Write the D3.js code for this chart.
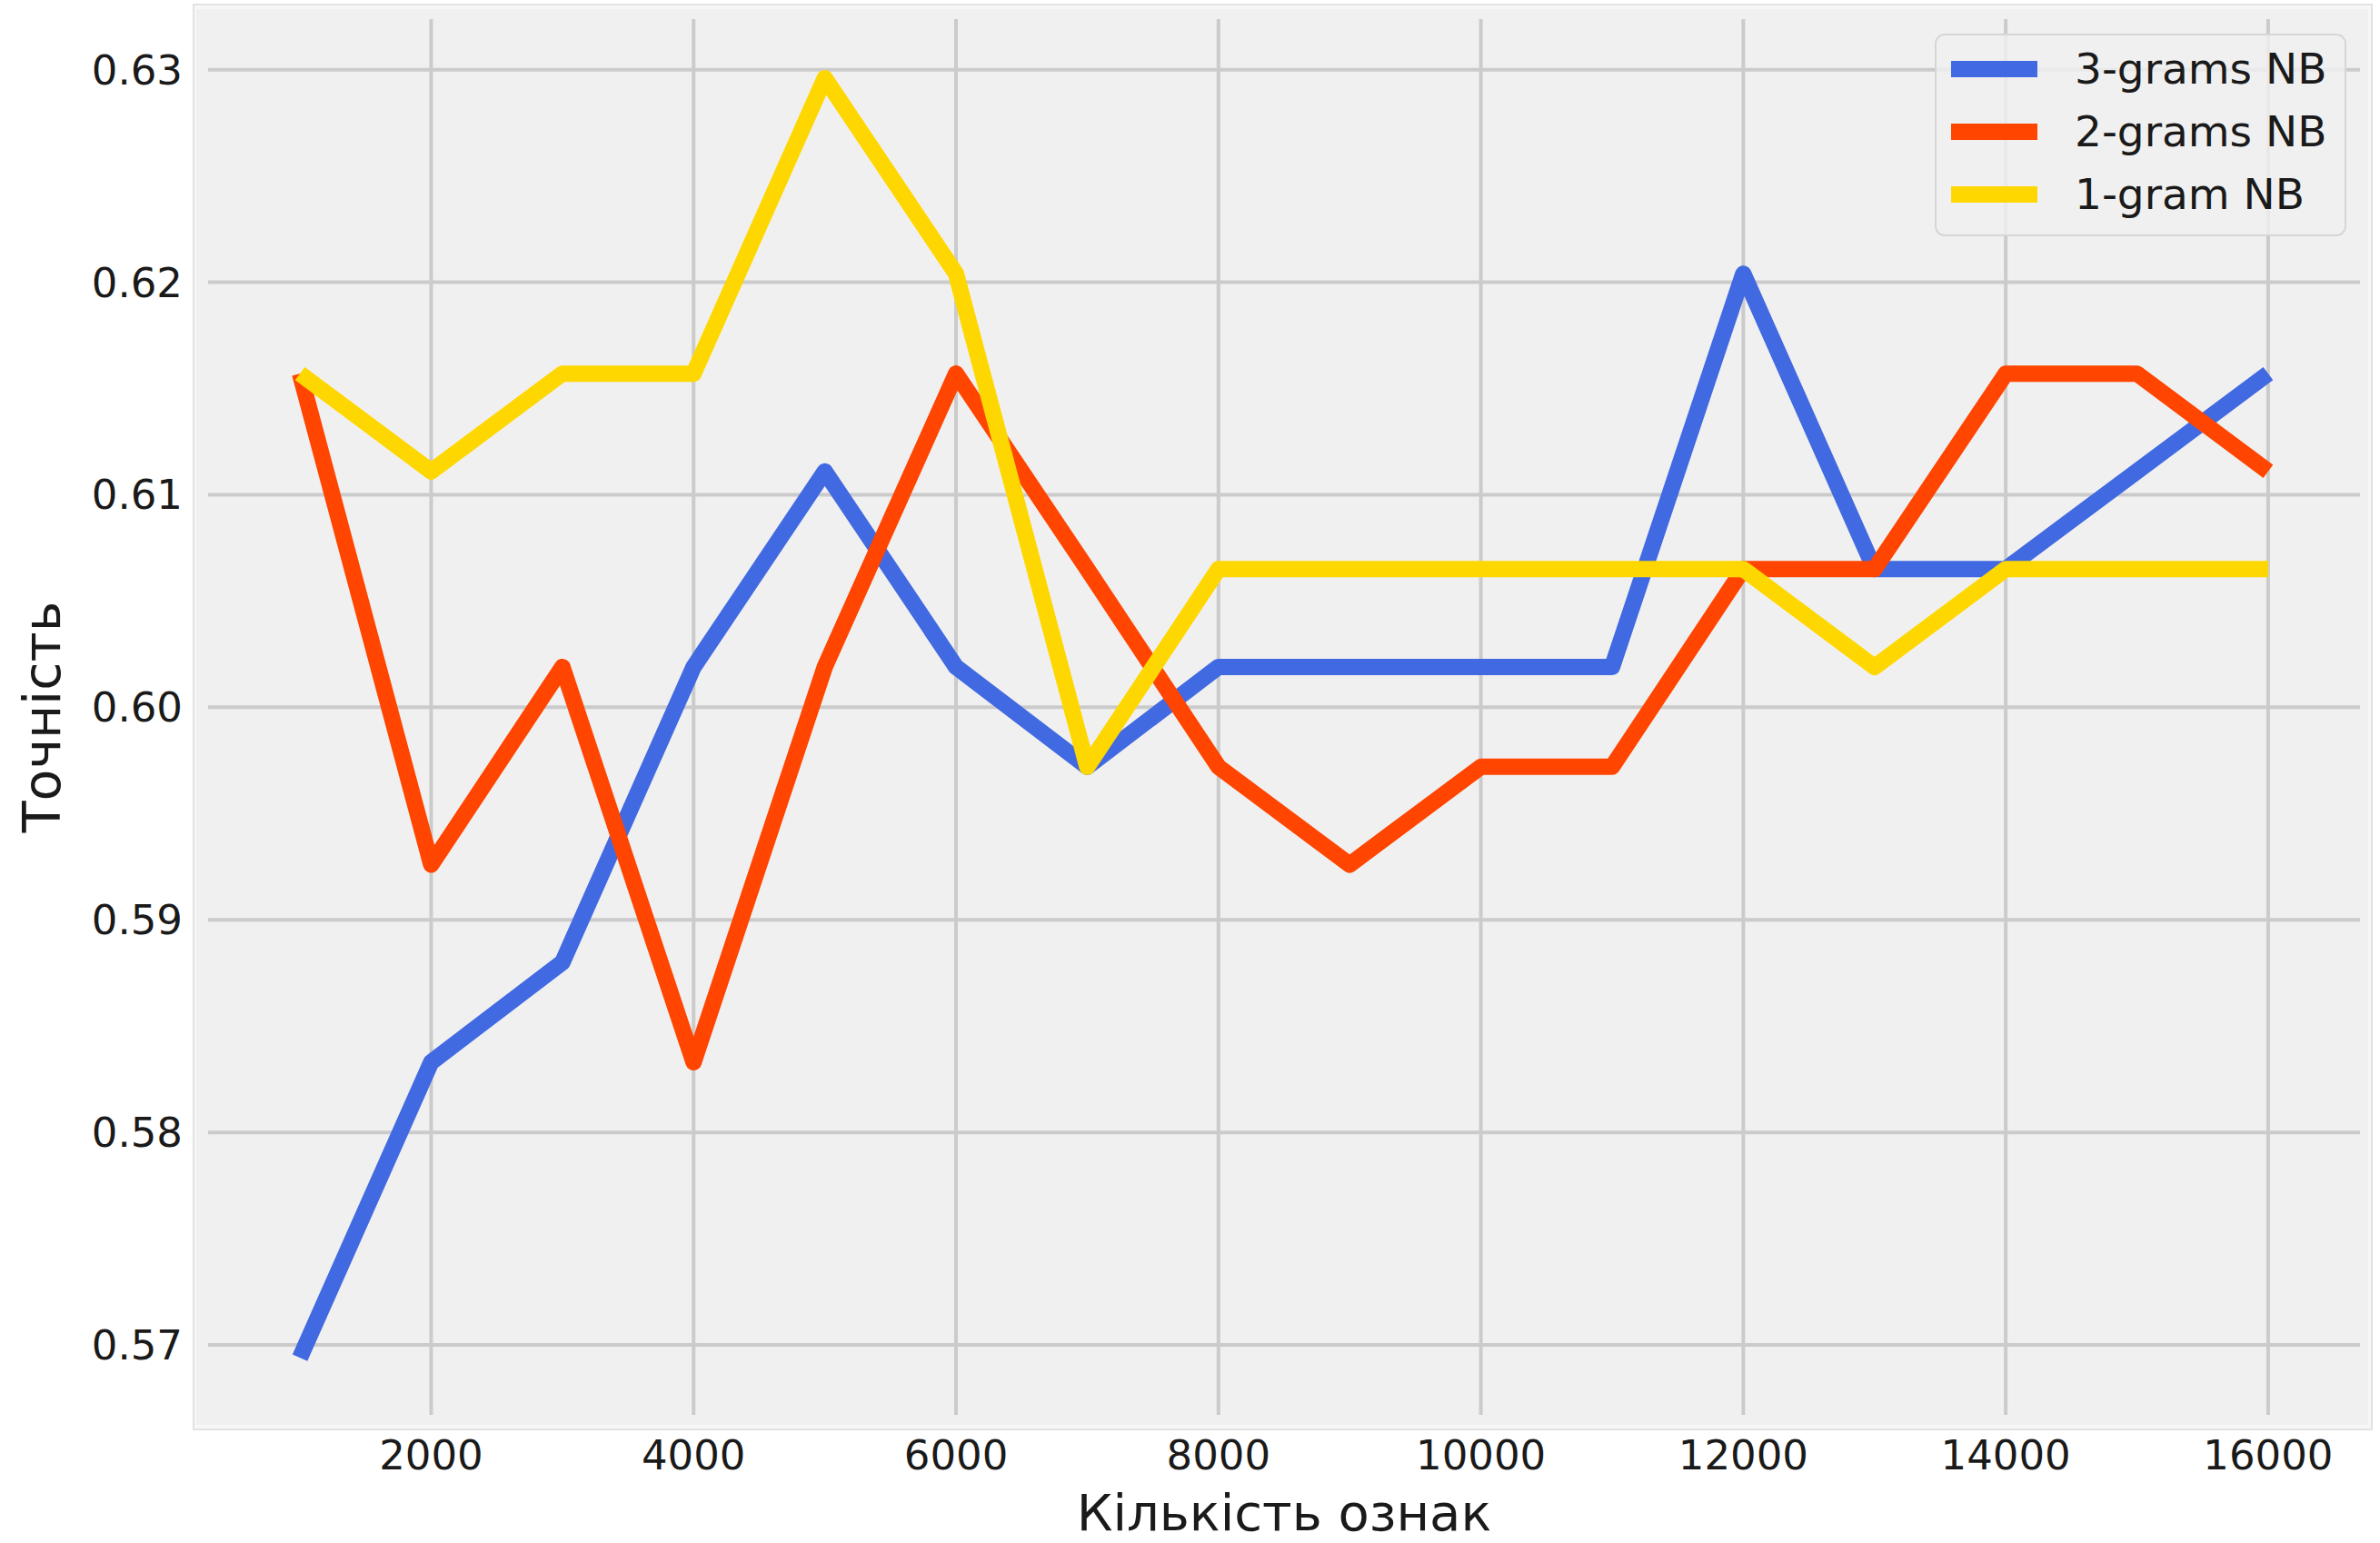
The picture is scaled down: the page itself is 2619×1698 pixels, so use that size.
<!DOCTYPE html>
<html>
<head>
<meta charset="utf-8">
<script src="https://cdn.jsdelivr.net/npm/d3@7"></script>
<style>
  body { margin: 0; background: #ffffff; }
  svg text { font-family: "DejaVu Sans", sans-serif; }
</style>
</head>
<body>
<div id="chart"></div>
<script>
// Number of features on the x axis.
const features = [1000, 2000, 3000, 4000, 5000, 6000, 7000, 8000,
  9000, 10000, 11000, 12000, 13000, 14000, 15000, 16000];

// Accuracy for each model.
const trigramNB = [0.5694, 0.5833, 0.5880, 0.6019, 0.6111, 0.6019, 0.5972, 0.6019,
  0.6019, 0.6019, 0.6019, 0.6204, 0.6065, 0.6065, 0.6111, 0.6157];
const bigramNB = [0.6157, 0.5926, 0.6019, 0.5833, 0.6019, 0.6157, 0.6065, 0.5972,
  0.5926, 0.5972, 0.5972, 0.6065, 0.6065, 0.6157, 0.6157, 0.6111];
const unigramNB = [0.6157, 0.6111, 0.6157, 0.6157, 0.6296, 0.6204, 0.5972, 0.6065,
  0.6065, 0.6065, 0.6065, 0.6065, 0.6019, 0.6065, 0.6065, 0.6065];

const seriesNames = ["3-grams NB", "2-grams NB", "1-gram NB"];
const xTicks = [2000, 4000, 6000, 8000, 10000, 12000, 14000, 16000];
const yTicks = [0.57, 0.58, 0.59, 0.60, 0.61, 0.62, 0.63];

const series = [
  { name: seriesNames[0], values: trigramNB, color: "#4169e1" },
  { name: seriesNames[1], values: bigramNB, color: "#ff4500" },
  { name: seriesNames[2], values: unigramNB, color: "#ffd700" }
];

//Set up the dimensions.
const width = 2619;
const height = 1698;
const plot = { left: 229, right: 2597, top: 21, bottom: 1557 };

const svg = d3.select("#chart")
  .append("svg")
  .attr("width", width)
  .attr("height", height);

//Scales.
const xScale = d3.scaleLinear()
  .domain([300, 16700])
  .range([plot.left, plot.right]);

const yScale = d3.scaleLinear()
  .domain([0.56671, 0.63238])
  .range([plot.bottom, plot.top]);

//Background frame.
svg.append("rect")
  .attr("x", 213).attr("y", 5)
  .attr("width", 2610 - 213).attr("height", 1573 - 5)
  .attr("fill", "#f7f7f7")
  .attr("stroke", "#e2e2e2")
  .attr("stroke-width", 2);

svg.append("rect")
  .attr("x", 216).attr("y", 10)
  .attr("width", 2606 - 216).attr("height", 1568 - 10)
  .attr("fill", "#f0f0f0");

//Grid lines.
svg.append("g")
  .selectAll("line")
  .data(xTicks)
  .join("line")
  .attr("x1", d => xScale(d)).attr("x2", d => xScale(d))
  .attr("y1", plot.top).attr("y2", plot.bottom)
  .attr("stroke", "#cbcbcb")
  .attr("stroke-width", 4);

svg.append("g")
  .selectAll("line")
  .data(yTicks)
  .join("line")
  .attr("x1", plot.left).attr("x2", plot.right)
  .attr("y1", d => yScale(d)).attr("y2", d => yScale(d))
  .attr("stroke", "#cbcbcb")
  .attr("stroke-width", 4);

//Tick labels.
svg.append("g")
  .selectAll("text")
  .data(xTicks)
  .join("text")
  .attr("x", d => xScale(d))
  .attr("y", 1617)
  .attr("text-anchor", "middle")
  .attr("font-size", 45)
  .attr("fill", "#1a1a1a")
  .text(d => d);

svg.append("g")
  .selectAll("text")
  .data(yTicks)
  .join("text")
  .attr("x", 201)
  .attr("y", d => yScale(d) + 16)
  .attr("text-anchor", "end")
  .attr("font-size", 45)
  .attr("fill", "#1a1a1a")
  .text(d => d3.format(".2f")(d));

//Axis titles.
svg.append("text")
  .attr("x", (plot.left + plot.right) / 2)
  .attr("y", 1684)
  .attr("text-anchor", "middle")
  .attr("font-size", 56)
  .attr("fill", "#1a1a1a")
  .text("Кількість ознак");

svg.append("text")
  .attr("transform", `translate(66,${(plot.top + plot.bottom) / 2}) rotate(-90)`)
  .attr("text-anchor", "middle")
  .attr("font-size", 57)
  .attr("fill", "#1a1a1a")
  .text("Точність");

//Lines.
const line = d3.line()
  .x((d, i) => xScale(features[i]))
  .y(d => yScale(d));

svg.append("g")
  .selectAll("path")
  .data(series)
  .join("path")
  .attr("d", d => line(d.values))
  .attr("fill", "none")
  .attr("stroke", d => d.color)
  .attr("stroke-width", 18)
  .attr("stroke-linejoin", "round")
  .attr("stroke-linecap", "butt");

//Legend.
const legend = svg.append("g");

legend.append("rect")
  .attr("x", 2130).attr("y", 38)
  .attr("width", 451).attr("height", 221)
  .attr("rx", 10)
  .attr("fill", "#f0f0f0")
  .attr("fill-opacity", 0.8)
  .attr("stroke", "#d6d6d6")
  .attr("stroke-width", 2);

const items = legend.selectAll("g.item")
  .data(series)
  .join("g")
  .attr("class", "item")
  .attr("transform", (d, i) => `translate(0,${76 + i * 69})`);

items.append("line")
  .attr("x1", 2147).attr("x2", 2242)
  .attr("y1", 0).attr("y2", 0)
  .attr("stroke", d => d.color)
  .attr("stroke-width", 18);

items.append("text")
  .attr("x", 2283)
  .attr("y", 16)
  .attr("font-size", 47)
  .attr("fill", "#1a1a1a")
  .text(d => d.name);
</script>
</body>
</html>
